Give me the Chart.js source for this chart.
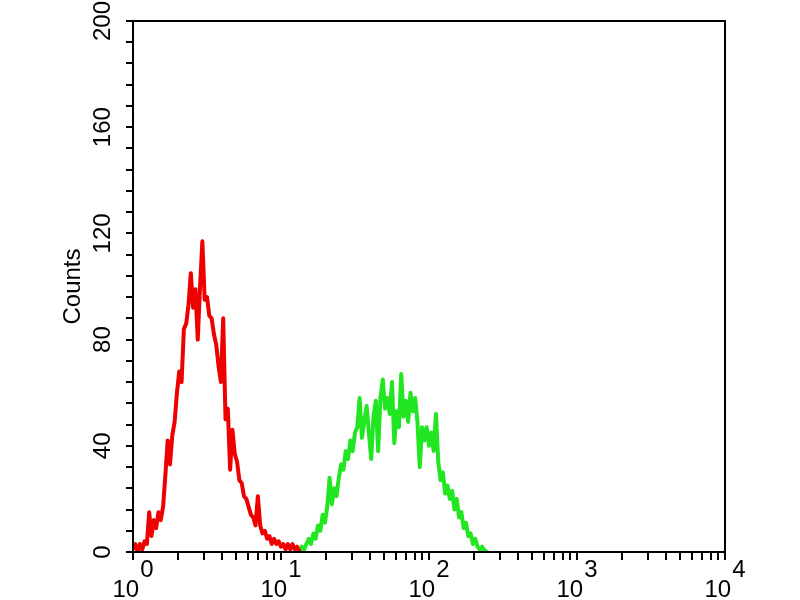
<!DOCTYPE html>
<html>
<head>
<meta charset="utf-8">
<script src="https://cdn.jsdelivr.net/npm/chart.js@4"></script>
<style>
  body { margin: 0; background: #fff; }
  #wrap { width: 800px; height: 600px; }
</style>
</head>
<body>
<div id="wrap"><canvas id="chart" width="800" height="600"></canvas></div>
<script>
// Histogram counts (one value every 4 channels)
const channelStep = 4;
const redStartChannel = 0;
const redCounts = [
  1, 3, 0, 3, 1, 4, 3, 15, 6, 12, 9, 15, 12, 17, 29, 42, 33, 44, 49, 60,
  68, 64, 84, 86, 93, 105, 92, 99, 80, 100, 117, 95, 96, 89, 88, 82, 78, 70, 64, 88,
  50, 54, 31, 46, 37, 34, 27, 26, 21, 20, 17, 14, 13, 10, 21, 10, 7, 8, 5, 6,
  3, 5, 3, 4, 2, 3, 1, 3, 1, 3, 1, 2, 0
];
const greenStartChannel = 288;
const greenCounts = [
  0, 2, 1, 3, 5, 3, 7, 5, 10, 8, 14, 11, 17, 28, 18, 24, 21, 28, 33, 31,
  38, 35, 42, 38, 45, 47, 58, 43, 49, 55, 45, 35, 51, 57, 38, 58, 65, 54, 58, 52,
  64, 41, 53, 47, 67, 51, 57, 49, 60, 53, 58, 49, 32, 47, 42, 47, 40, 45, 38, 52,
  34, 27, 30, 22, 25, 20, 23, 16, 20, 13, 15, 9, 11, 6, 7, 3, 5, 2, 1, 2,
  0, 1
];

// Axis definitions (1024 channels over 4 log decades)
const channelsPerDecade = 256;
const decadeExponents = [0, 1, 2, 3, 4];
const minorMultipliers = [2, 3, 4, 5, 6, 7, 8, 9];
const yTickLabels = [0, 40, 80, 120, 160, 200];
const yMinorStep = 8;

function toPoints(start, counts) {
    return counts.map((c, i) => ({ x: start + i * channelStep, y: c }));
}

// Draws the frame and the axis texts (superscript exponents, rotated counts)
const axisText = {
    id: 'axisText',
    afterDraw(chart) {
        const ctx = chart.ctx;
        const area = chart.chartArea;
        const xs = chart.scales.x;
        const ys = chart.scales.y;
        ctx.save();
        ctx.strokeStyle = '#000';
        ctx.lineWidth = 2;
        ctx.strokeRect(area.left, area.top, area.right - area.left, area.bottom - area.top);

        ctx.fillStyle = '#000';
        ctx.font = '24px "Liberation Sans", Arial, sans-serif';
        // y tick labels, reading bottom to top
        yTickLabels.forEach(v => {
            ctx.save();
            ctx.translate(area.left - 23, ys.getPixelForValue(v));
            ctx.rotate(-Math.PI / 2);
            ctx.textAlign = 'center';
            ctx.textBaseline = 'alphabetic';
            ctx.fillText(String(v), 0, 0);
            ctx.restore();
        });
        // y title
        ctx.save();
        ctx.translate(area.left - 53, (area.top + area.bottom) / 2);
        ctx.rotate(-Math.PI / 2);
        ctx.textAlign = 'center';
        ctx.fillText('Counts', 0, 0);
        ctx.restore();
        // x tick labels 10^n
        decadeExponents.forEach(e => {
            const px = xs.getPixelForValue(e * channelsPerDecade);
            const w1 = ctx.measureText('10').width;
            const w2 = ctx.measureText(String(e)).width;
            const start = px - (w1 + w2 + 1) / 2;
            ctx.textAlign = 'left';
            ctx.textBaseline = 'alphabetic';
            ctx.fillText('10', start, area.bottom + 45);
            ctx.fillText(String(e), start + w1 + 1, area.bottom + 25);
        });
        ctx.restore();
    }
};

const ctx = document.getElementById('chart').getContext('2d');
const chart = new Chart(ctx, {
    type: 'line',
    data: {
        datasets: [{
            data: toPoints(redStartChannel, redCounts),
            borderColor: '#ee0000',
            borderWidth: 4,
            borderJoinStyle: 'round',
            pointRadius: 0,
            tension: 0
        }, {
            data: toPoints(greenStartChannel, greenCounts),
            borderColor: '#22e622',
            borderWidth: 4,
            borderJoinStyle: 'round',
            pointRadius: 0,
            tension: 0
        }]
    },
    options: {
        responsive: false,
        animation: false,
        layout: { padding: { top: 21, right: 75, left: 0, bottom: 0 } },
        plugins: {
            legend: { display: false },
            tooltip: { enabled: false }
        },
        scales: {
            x: {
                type: 'linear',
                min: 0,
                max: decadeExponents[decadeExponents.length - 1] * channelsPerDecade,
                afterBuildTicks(scale) {
                    const ticks = [];
                    decadeExponents.forEach(e => {
                        ticks.push({ value: e * channelsPerDecade });
                        if (e < decadeExponents[decadeExponents.length - 1]) {
                            minorMultipliers.forEach(m => {
                                ticks.push({ value: (e + Math.log10(m)) * channelsPerDecade });
                            });
                        }
                    });
                    scale.ticks = ticks;
                },
                afterFit(scale) { scale.height = 48; },
                ticks: { display: false, autoSkip: false },
                grid: { drawOnChartArea: false, drawTicks: true, tickLength: 8, color: '#000', lineWidth: 2 },
                border: { display: true, color: '#000', width: 2 }
            },
            y: {
                min: 0,
                max: 200,
                ticks: { display: false, stepSize: yMinorStep, autoSkip: false },
                afterFit(scale) { scale.width = 133; },
                grid: { drawOnChartArea: false, drawTicks: true, tickLength: 7, color: '#000', lineWidth: 2 },
                border: { display: true, color: '#000', width: 2 }
            }
        }
    },
    plugins: [axisText]
});
</script>
</body>
</html>
